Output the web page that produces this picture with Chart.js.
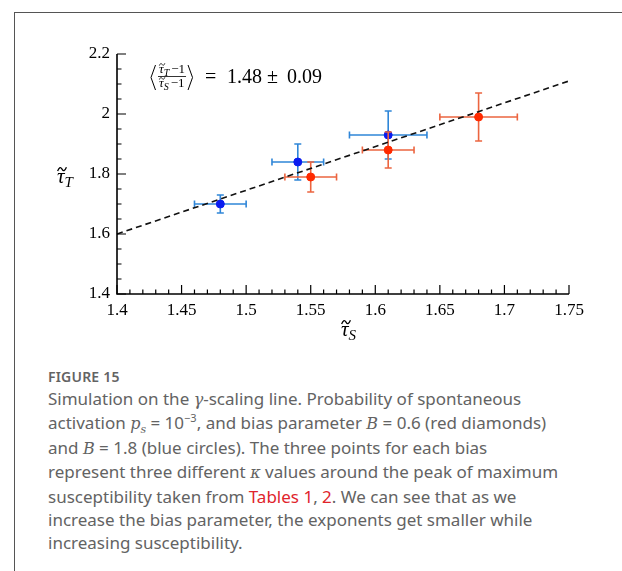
<!DOCTYPE html>
<html>
<head>
<meta charset="utf-8">
<script src="https://cdn.jsdelivr.net/npm/chart.js@4.4.1/dist/chart.umd.min.js"></script>
<style>
    body { margin: 0; background: #fff; width: 622px; height: 571px; overflow: hidden; position: relative; font-family: "Noto Sans", sans-serif; }
    #frame { position: absolute; left: 14px; top: 12px; right: 0; bottom: 0; border-left: 1.5px solid #555; border-top: 1.5px solid #555; }
    #chart-wrap { position: absolute; left: 0; top: 0; width: 622px; height: 350px; }
    #caption { position: absolute; left: 48px; top: 368px; width: 570px; color: #636363; }
    .fig-label { font-size: 14px; font-weight: 600; line-height: 18px; letter-spacing: 0.2px; }
    .fig-text { font-size: 17px; line-height: 23.4px; margin-top: 1px; white-space: nowrap; }
    .fig-text i { font-family: "DejaVu Serif", serif; font-size: 16px; }
    .fig-text sub, .fig-text sup { line-height: 0; font-size: 11px; }
    .ref { color: #e0242b; }
</style>
</head>
<body>
<div id="frame"></div>
<div id="chart-wrap"><canvas id="scalingChart"></canvas></div>
<div id="caption">
    <div class="fig-label">FIGURE 15</div>
    <div class="fig-text">Simulation on the <i>γ</i>-scaling line. Probability of spontaneous<br>activation <i>p<sub>s</sub></i> = 10<sup>−3</sup>, and bias parameter <i>B</i> = 0.6 (red diamonds)<br>and <i>B</i> = 1.8 (blue circles). The three points for each bias<br>represent three different <i>κ</i> values around the peak of maximum<br>susceptibility taken from <span class="ref">Tables 1</span>, <span class="ref">2</span>. We can see that as we<br>increase the bias parameter, the exponents get smaller while<br>increasing susceptibility.</div>
</div>
<script>
// B = 1.8 (blue)
const blueX = [1.48, 1.54, 1.61];
const blueY = [1.70, 1.84, 1.93];
const blueXErr = [0.02, 0.02, 0.03];
const blueYErr = [0.03, 0.06, 0.08];

// B = 0.6 (red)
const redX = [1.55, 1.61, 1.68];
const redY = [1.79, 1.88, 1.99];
const redXErr = [0.02, 0.02, 0.03];
const redYErr = [0.05, 0.06, 0.08];

// dashed fit line
const fitX = [1.40, 1.75];
const fitY = [1.60, 2.11];

const xMin = 1.4, xMax = 1.75, xStep = 0.05, xMinor = 0.01;
const yMin = 1.4, yMax = 2.2, yStep = 0.2, yMinor = 0.05;

const serif = '"Liberation Serif", "DejaVu Serif", serif';

function toPoints(xs, ys) {
    return xs.map((x, i) => ({ x: x, y: ys[i] }));
}

// 1.40 -> "1.4", 2.0 -> "2"
function shortLabel(v) {
    return String(parseFloat(Number(v).toFixed(2)));
}

// error bars drawn just before each dataset's own points
const errorBars = {
    id: 'errorBars',
    beforeDatasetDraw(chart, args) {
        const ds = chart.data.datasets[args.index];
        if (!ds.xErr) return;
        const { ctx, scales: { x, y } } = chart;
        const cap = 3.5;
        ctx.save();
        ctx.strokeStyle = ds.barColor;
        ctx.lineWidth = 1.6;
        ds.data.forEach((p, i) => {
            const px = x.getPixelForValue(p.x), py = y.getPixelForValue(p.y);
            const x0 = x.getPixelForValue(p.x - ds.xErr[i]), x1 = x.getPixelForValue(p.x + ds.xErr[i]);
            const y0 = y.getPixelForValue(p.y - ds.yErr[i]), y1 = y.getPixelForValue(p.y + ds.yErr[i]);
            ctx.beginPath();
            ctx.moveTo(x0, py); ctx.lineTo(x1, py);
            ctx.moveTo(x0, py - cap); ctx.lineTo(x0, py + cap);
            ctx.moveTo(x1, py - cap); ctx.lineTo(x1, py + cap);
            ctx.moveTo(px, y0); ctx.lineTo(px, y1);
            ctx.moveTo(px - cap, y0); ctx.lineTo(px + cap, y0);
            ctx.moveTo(px - cap, y1); ctx.lineTo(px + cap, y1);
            ctx.stroke();
        });
        ctx.restore();
    }
};

// axes with inward ticks, titles and the ratio annotation
const axesDecor = {
    id: 'axesDecor',
    afterDraw(chart) {
        const { ctx, chartArea: a, scales: { x, y } } = chart;
        ctx.save();
        ctx.strokeStyle = '#000';
        ctx.lineWidth = 1.6;
        ctx.beginPath();
        ctx.moveTo(a.left, a.top);
        ctx.lineTo(a.left, a.bottom);
        ctx.lineTo(a.right, a.bottom);
        ctx.stroke();

        ctx.lineWidth = 1.2;
        ctx.beginPath();
        const nx = Math.round((xMax - xMin) / xMinor);
        for (let k = 0; k <= nx; k++) {
            const v = xMin + k * xMinor;
            const px = x.getPixelForValue(v);
            const len = (k % 5 === 0) ? 9 : 4.5;
            ctx.moveTo(px, a.bottom); ctx.lineTo(px, a.bottom - len);
        }
        const ny = Math.round((yMax - yMin) / yMinor);
        for (let k = 0; k <= ny; k++) {
            const v = yMin + k * yMinor;
            const py = y.getPixelForValue(v);
            const len = (k % 4 === 0) ? 9 : 4.5;
            ctx.moveTo(a.left, py); ctx.lineTo(a.left + len, py);
        }
        ctx.stroke();

        ctx.fillStyle = '#000';
        ctx.textBaseline = 'alphabetic';
        ctx.textAlign = 'left';

        // italic tau with a tilde on top and a subscript
        function tau(px, py, size, sub, subSize) {
            ctx.font = 'italic ' + size + 'px ' + serif;
            ctx.fillText('τ', px, py);
            const w = ctx.measureText('τ').width;
            const tw = size * 0.42, th = size * 0.09;
            const tx = px + w * 0.5 - tw / 2 + size * 0.06;
            const ty = py - size * 0.66;
            ctx.lineWidth = Math.max(0.7, size / 16);
            ctx.beginPath();
            ctx.moveTo(tx, ty + th);
            ctx.bezierCurveTo(tx + tw * 0.2, ty - th * 1.2, tx + tw * 0.35, ty - th * 1.2, tx + tw * 0.5, ty);
            ctx.bezierCurveTo(tx + tw * 0.65, ty + th * 1.2, tx + tw * 0.8, ty + th * 1.2, tx + tw, ty - th);
            ctx.stroke();
            ctx.font = 'italic ' + subSize + 'px ' + serif;
            ctx.fillText(sub, px + w, py + size * 0.2);
            return px + w + ctx.measureText(sub).width;
        }

        // axis titles
        tau(57, 183, 21, 'T', 15);
        tau(341, 336, 21, 'S', 15);

        // annotation <(tT-1)/(tS-1)> = 1.48 ± 0.09
        let e = tau(159, 73, 13, 'T', 10);
        ctx.font = '13px ' + serif;
        ctx.fillText('−1', e + 2, 73);
        const barEnd = e + 2 + ctx.measureText('−1').width;
        ctx.lineWidth = 0.8;
        ctx.beginPath();
        ctx.moveTo(158, 76.5); ctx.lineTo(barEnd + 1, 76.5);
        ctx.stroke();
        e = tau(159, 87, 13, 'S', 10);
        ctx.font = '13px ' + serif;
        ctx.fillText('−1', e + 2, 87);

        // thin angle brackets
        ctx.lineWidth = 1;
        ctx.beginPath();
        ctx.moveTo(155.5, 65); ctx.lineTo(151, 77.5); ctx.lineTo(155.5, 90);
        ctx.moveTo(barEnd + 3, 65); ctx.lineTo(barEnd + 7.5, 77.5); ctx.lineTo(barEnd + 3, 90);
        ctx.stroke();

        ctx.font = '20px ' + serif;
        ctx.fillText('=', 205, 83);
        ctx.fillText('1.48', 227, 83);
        ctx.fillText('±', 267, 83);
        ctx.fillText('0.09', 287, 83);
        ctx.restore();
    }
};

const ctx = document.getElementById('scalingChart').getContext('2d');
new Chart(ctx, {
    type: 'scatter',
    data: {
        datasets: [
            {
                label: 'B = 1.8',
                data: toPoints(blueX, blueY),
                xErr: blueXErr,
                yErr: blueYErr,
                barColor: '#2f86d8',
                backgroundColor: '#0a1cf0',
                borderColor: '#0a1cf0',
                pointRadius: 4,
                order: 3
            },
            {
                label: 'B = 0.6',
                data: toPoints(redX, redY),
                xErr: redXErr,
                yErr: redYErr,
                barColor: '#ec6540',
                backgroundColor: '#ff2a00',
                borderColor: '#ff2a00',
                pointRadius: 4,
                order: 2
            },
            {
                type: 'line',
                label: 'fit',
                data: toPoints(fitX, fitY),
                borderColor: '#111',
                borderWidth: 1.6,
                borderDash: [6, 4],
                pointRadius: 0,
                fill: false,
                order: 1
            }
        ]
    },
    options: {
        responsive: true,
        maintainAspectRatio: false,
        animation: false,
        layout: { padding: { left: 0, right: 53, top: 54, bottom: 0 } },
        plugins: {
            legend: { display: false },
            tooltip: { enabled: false }
        },
        scales: {
            x: {
                type: 'linear',
                min: xMin,
                max: xMax,
                grid: { display: false, drawTicks: false },
                border: { display: false },
                ticks: { stepSize: xStep, color: '#000', font: { family: serif, size: 17 }, padding: 6, maxRotation: 0, autoSkip: false, callback: shortLabel },
                afterFit(s) { s.height = 56; }
            },
            y: {
                type: 'linear',
                min: yMin,
                max: yMax,
                grid: { display: false, drawTicks: false },
                border: { display: false },
                ticks: { stepSize: yStep, color: '#000', font: { family: serif, size: 17 }, padding: 7, callback: shortLabel },
                afterFit(s) { s.width = 117; }
            }
        }
    },
    plugins: [errorBars, axesDecor]
});
</script>
</body>
</html>
